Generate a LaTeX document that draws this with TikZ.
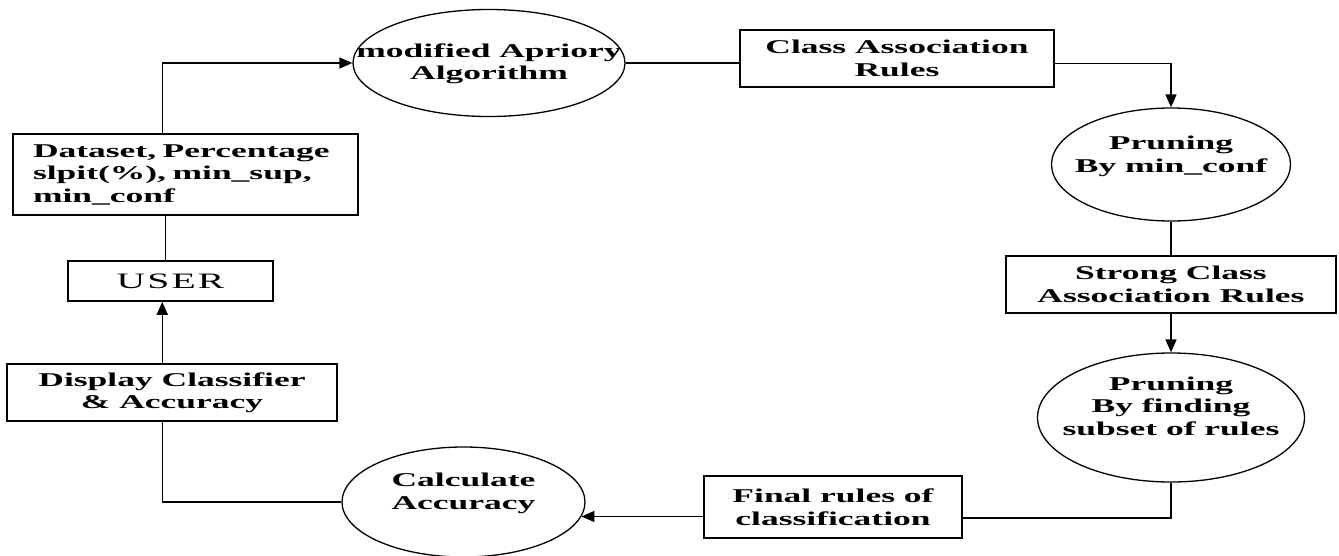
\documentclass[tikz,border=0pt]{standalone}
\usepackage{fontspec}
\setmainfont{Liberation Serif}[FakeStretch=1.82]
\newfontfamily\userfont{Liberation Serif}[FakeStretch=1.8,LetterSpace=10]
\usetikzlibrary{arrows.meta,shapes.geometric,calc}
\tikzset{
  every node/.style={font=\fontsize{19.5}{22.5}\selectfont\bfseries, inner sep=0pt},
  box/.style={draw, line width=1.5pt, rectangle, align=center},
  oval/.style={draw, line width=1.3pt, ellipse, inner sep=0pt},
  ovaltext/.style={align=center},
  conn/.style={line width=1.5pt},
  arr/.style={conn, -{Triangle[length=13pt,width=11pt]}}
}
\begin{document}
\begin{tikzpicture}[x=1pt,y=-1pt]
\fill[white] (0,0) rectangle (1339,555);
\useasboundingbox (0,0) rectangle (1339,555);

% ellipses
\node[oval, minimum width=272pt, minimum height=107pt,
  label={[ovaltext, name=algot, yshift=-1pt]center:{modified Apriory\\Algorithm}}] (algo) at (489,63) {};
\node[oval, minimum width=239pt, minimum height=113pt,
  label={[ovaltext, name=prune1t, yshift=8pt]center:{Pruning\\By min\_conf}}] (prune1) at (1171,164.5) {};
\node[oval, minimum width=267pt, minimum height=129pt,
  label={[ovaltext, name=prune2t, yshift=11.5pt]center:{Pruning\\By finding\\subset of rules}}] (prune2) at (1171,417.5) {};
\node[oval, minimum width=243pt, minimum height=110pt,
  label={[ovaltext, name=calct, yshift=8.5pt]center:{Calculate\\Accuracy}}] (calc) at (463.5,502) {};

% boxes
\node[box, minimum width=314pt, minimum height=57pt] (car) at (897,58.5) {Class Association\\Rules};
\node[box, minimum width=330pt, minimum height=57pt] (strong) at (1171,284.5) {Strong Class\\Association Rules};
\node[box, minimum width=258pt, minimum height=62pt] (final) at (833,507) {Final rules of\\classification};
\node[box, align=left, text width=305pt, minimum width=345pt, minimum height=81pt] (data) at (185.5,174.5)
  {Dataset, Percentage\\slpit(\%), min\_sup,\\min\_conf};
\node[box, minimum width=205pt, minimum height=40pt, font=\fontsize{22}{24}\selectfont\userfont] (user) at (170.5,281) {USER};
\node[box, minimum width=330pt, minimum height=57pt] (display) at (172,392.5) {Display Classifier\\\&\ Accuracy};

% connectors
\coordinate (dtop) at ($(data.north west)+(150,0)$);
\draw[arr] (dtop) |- (algo.west);
\draw[conn] (algo.east) -- (algo.east -| car.west);
\draw[arr] ($(car.east)+(0,5)$) -| (prune1.north);
\draw[conn] (prune1.south) -- (strong.north);
\draw[arr] (strong.south) -- (prune2.north);
\draw[conn] (prune2.south) |- ($(final.east)+(0,11)$);
\draw[arr] (calc.-7 -| final.west) -- (calc.-7);
\coordinate (dbot) at ($(display.south west)+(156,0)$);
\draw[conn] (dbot) |- (calc.west);
\coordinate (dsp) at ($(display.north west)+(156,0)$);
\draw[arr] (dsp) -- (dsp |- user.south);
\coordinate (ut) at ($(user.north west)+(98,0)$);
\draw[conn] (ut) -- (ut |- data.south);
\end{tikzpicture}
\end{document}
